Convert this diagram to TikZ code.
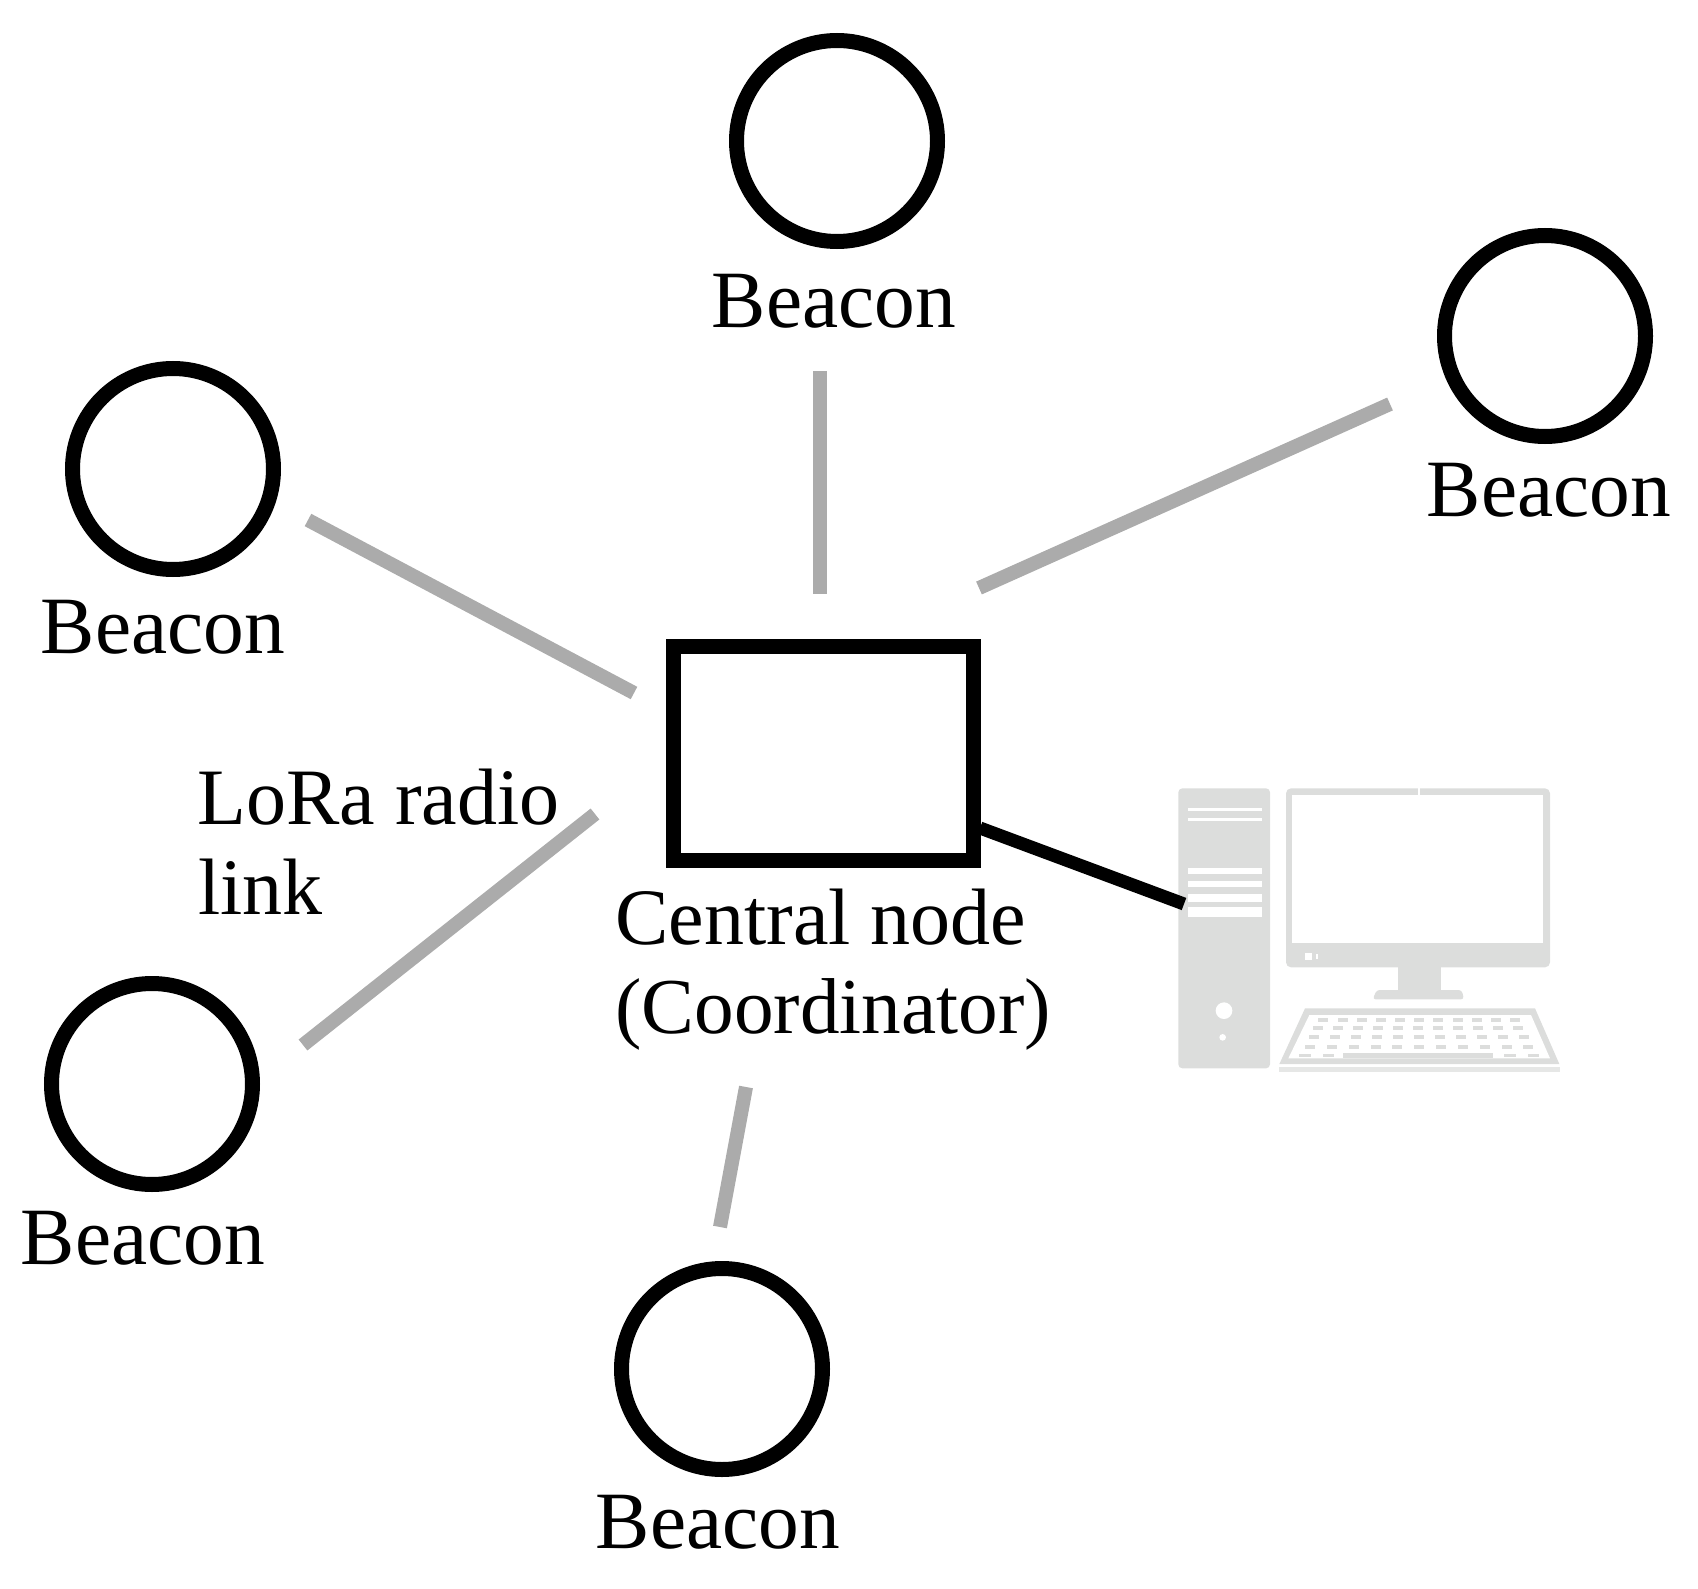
\documentclass[tikz,border=0pt]{standalone}
\usepackage{fontspec}
\setmainfont{Liberation Serif}
\definecolor{pcgray}{HTML}{DCDDDC}
\definecolor{linkgray}{HTML}{ABABAB}
\tikzset{
  beacon/.style={circle,draw=black,line width=7.5pt,minimum size=100.5pt,inner sep=0pt,outer sep=0pt},
  central/.style={rectangle,draw=black,line width=7.5pt,minimum width=150pt,minimum height=107pt,inner sep=0pt,outer sep=0pt},
  lbl/.style={font=\fontsize{40.7}{44}\selectfont,inner sep=0pt,anchor=base,text=black},
  lblleft/.style={font=\fontsize{40}{44}\selectfont,inner sep=0pt,anchor=base west,text=black},
  radiolink/.style={draw=linkgray,line width=7pt},
  wiredlink/.style={draw=black,line width=6.5pt},
  pcpart/.style={fill=pcgray,draw=none},
  pchole/.style={fill=white,draw=none}
}
\begin{document}
\begin{tikzpicture}[x=0.5pt,y=-0.5pt]
\useasboundingbox (0,0) rectangle (1698,1589);
% computer (drawn in a local grid)
\begin{scope}[shift={(1150,760)},x=0.16667pt,y=-0.16667pt]
  % tower
  \fill[pcpart,rounded corners=2pt] (85,85) rectangle (360,925);
  \fill[pchole] (115,143) rectangle (335,153);
  \fill[pchole] (115,174) rectangle (335,183);
  \fill[pchole] (115,325) rectangle (335,342);
  \fill[pchole] (115,363) rectangle (335,382);
  \fill[pchole] (115,403) rectangle (335,425);
  \fill[pchole] (115,442) rectangle (335,470);
  \fill[pchole] (222,752) circle[radius=25];
  \fill[pchole] (218,832) circle[radius=10];
  % monitor
  \fill[pcpart,rounded corners=2.5pt] (408,85) rectangle (1200,622);
  \fill[pchole] (427,105) rectangle (1180,550);
  \fill[pchole] (804,85) rectangle (811,105);
  \fill[pchole] (465,580) rectangle (485,600);
  \fill[pchole] (497,582) rectangle (505,598);
  \fill[pcpart] (745,622) rectangle (872,690);
  \fill[pcpart,rounded corners=1.5pt] (668,718) -- (680,690) -- (935,690) -- (942,718) -- cycle;
  % keyboard
  \fill[pcpart] (465,745) -- (1155,745) -- (1228,912) -- (388,912) -- cycle;
  \fill[pchole] (478,765) -- (1143,765) -- (1200,895) -- (415,895) -- cycle;
  \fill[fill=pcgray!70!white] (386,920) rectangle (1230,936);
  \foreach \ry/\xl/\xr in {780/520/1095, 805/505/1105, 832/492/1122, 862/480/1135}{
    \foreach \k in {0,...,10}{
      \pgfmathsetmacro{\kx}{\xl+(\xr-\xl)*\k/10}
      \fill[pcpart] (\kx-15,\ry-6) rectangle (\kx+15,\ry+6);
    }
  }
  \fill[pcpart] (580,880) rectangle (1030,895);
  \foreach \kx in {465,535,1080,1150}{
    \fill[pcpart] (\kx-17,881) rectangle (\kx+17,892);
  }
\end{scope}
% nodes
\node[beacon] (b1) at (837,141) {};
\node[beacon] (b2) at (1545,336) {};
\node[beacon] (b3) at (173,469) {};
\node[beacon] (b4) at (152,1084) {};
\node[beacon] (b5) at (722,1369) {};
\node[central] (c) at (823.5,753) {};
\node[lbl] (t1) at (834,328) {Beacon};
\node[lbl] (t2) at (1549,516) {Beacon};
\node[lbl] (t3) at (163,653) {Beacon};
\node[lbl] (t4) at (143,1264) {Beacon};
\node[lbl] (t5) at (718,1548) {Beacon};
\node[lblleft] (t6) at (197,824) {LoRa radio};
\node[lblleft] (t7) at (198,914) {link};
\node[lblleft] (t8) at (615,944) {Central node};
\node[lblleft,font=\fontsize{39.6}{44}\selectfont] (t9) at (615,1033) {(Coordinator)};
% connector ends
\coordinate (l1a) at (820,371);  \coordinate (l1b) at (820,594);
\coordinate (l2a) at (1390,404); \coordinate (l2b) at (979,588);
\coordinate (l3a) at (308,520);  \coordinate (l3b) at (634,693);
\coordinate (l4a) at (303,1045); \coordinate (l4b) at (595,814);
\coordinate (l5a) at (720,1227); \coordinate (l5b) at (746,1087);
\coordinate (pc) at (1184,904);
\coordinate (ce) at (980,828);
% connectors
\draw[radiolink] (l1a) -- (l1b);
\draw[radiolink] (l2a) -- (l2b);
\draw[radiolink] (l3a) -- (l3b);
\draw[radiolink] (l4a) -- (l4b);
\draw[radiolink] (l5a) -- (l5b);
\draw[wiredlink] (ce) -- (pc);
\end{tikzpicture}
\end{document}
